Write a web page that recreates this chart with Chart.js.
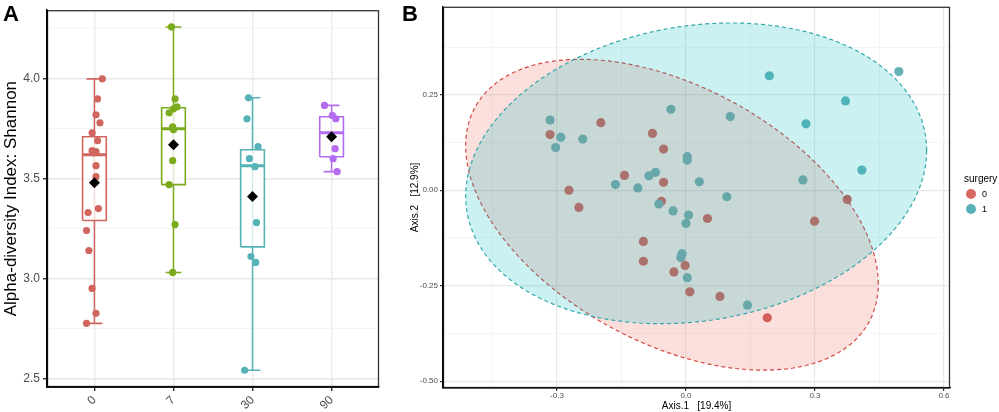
<!DOCTYPE html>
<html><head><meta charset="utf-8">
<script src="https://cdn.jsdelivr.net/npm/chart.js@4.4.1/dist/chart.umd.min.js"></script>
<style>
html,body{margin:0;padding:0;background:#fff;}
#wrap{position:relative;width:999px;height:412px;overflow:hidden;font-family:"Liberation Sans",Arial,sans-serif;}
#cA{position:absolute;left:0;top:0;}
#cB{position:absolute;left:400px;top:0;}
.lab{position:absolute;font-weight:bold;font-size:22px;line-height:22px;color:#000;}
.txt{position:absolute;color:#000;line-height:1;white-space:nowrap;}
.key{position:absolute;width:10px;height:10px;border-radius:50%;}
</style></head>
<body><div id="wrap">
<canvas id="cA" width="400" height="412"></canvas>
<canvas id="cB" width="599" height="412"></canvas>
<div class="lab" style="left:3px;top:3px">A</div>
<div class="lab" style="left:402px;top:3px">B</div>
<div class="txt" style="left:964px;top:174px;font-size:10px">surgery</div>
<div class="key" style="left:966px;top:189px;background:rgb(216,104,97)"></div>
<div class="txt" style="left:982px;top:190px;font-size:9px">0</div>
<div class="key" style="left:966px;top:204px;background:rgb(90,178,182)"></div>
<div class="txt" style="left:982px;top:205px;font-size:9px">1</div>
</div>
<script>
// ---------- Panel A data ----------
const categories = ['0','7','30','90'];
const shannon0 = [4.00,3.90,3.82,3.78,3.73,3.69,3.64,3.635,3.63,3.565,3.51,3.35,3.33,3.24,3.14,2.95,2.825,2.775];
const jitter0  = [0.10,0.04,0.02,0.07,-0.03,0.04,-0.03,0.02,-0.01,0.02,0.02,0.05,-0.08,-0.10,-0.07,-0.03,0.02,-0.10];
const shannon7 = [4.26,3.90,3.86,3.85,3.83,3.76,3.745,3.59,3.47,3.27,3.03];
const jitter7  = [-0.025,0.02,0.045,0.0,-0.055,-0.01,0.0,-0.01,-0.055,0.02,-0.01];
const shannon30 = [3.905,3.80,3.66,3.60,3.56,3.28,3.11,3.08,2.54];
const jitter30  = [-0.05,-0.07,0.07,-0.04,0.03,0.05,-0.02,0.04,-0.10];
const shannon90 = [3.867,3.817,3.80,3.65,3.60,3.535];
const jitter90  = [-0.09,0.01,0.055,0.045,0.02,0.07];
const whiskerLow  = [2.775,3.03,2.54,3.535];
const q1          = [3.29,3.47,3.158,3.61];
const median      = [3.62,3.75,3.565,3.73];
const q3          = [3.71,3.855,3.645,3.81];
const whiskerHigh = [4.00,4.26,3.905,3.867];
const means       = [3.48,3.67,3.41,3.71];
const yTicksA = [2.5,2.75,3.0,3.25,3.5,3.75,4.0,4.25];

// ---------- Panel B data ----------
const axis1_s0 = [-0.316,-0.198,-0.143,-0.272,-0.249,-0.078,-0.052,-0.052,-0.057,-0.099,-0.099,-0.028,-0.002,0.009,0.375,0.050,0.299,0.079,0.189];
const axis2_s0 = [0.146,0.177,0.039,0.000,-0.045,0.149,0.108,0.021,-0.029,-0.134,-0.186,-0.214,-0.197,-0.266,-0.024,-0.074,-0.081,-0.278,-0.334];
const axis1_s1 = [-0.316,-0.291,-0.303,-0.240,-0.035,-0.164,-0.112,-0.086,-0.071,0.003,0.003,0.031,-0.063,-0.030,0.006,0.000,-0.009,-0.012,0.003,0.194,0.495,0.371,0.103,0.279,0.409,0.272,0.095,0.143];
const axis2_s1 = [0.184,0.139,0.112,0.134,0.212,0.015,0.006,0.038,0.047,0.088,0.079,0.022,-0.036,-0.054,-0.065,-0.087,-0.166,-0.176,-0.229,0.300,0.311,0.234,0.193,0.174,0.053,0.027,-0.017,-0.301];
// ellipse (centre, conjugate semi-axes) per surgery group
const ellCenter0 = [-0.0326,-0.0641], ellU0 = [0.4798,-0.1809], ellV0 = [0,0.3648];
const ellCenter1 = [0.0237,0.0443],  ellU1 = [0.536,0.0601],   ellV1 = [0,0.3893];
const xTicksB = [-0.45,-0.3,-0.15,0,0.15,0.3,0.45,0.6];
const yTicksB = [-0.5,-0.375,-0.25,-0.125,0,0.125,0.25,0.375];

// ---------- common ----------
Chart.defaults.font.family = "'Liberation Sans', Arial, sans-serif";
Chart.defaults.animation = false;
const groupCols = ['#D1665E','#7BAA1C','#55B3B6','#B36CF0'];
const values = [shannon0,shannon7,shannon30,shannon90];
const jitters = [jitter0,jitter7,jitter30,jitter90];

function borderPlugin(lw){
  return {id:'panelBorder', afterDatasetsDraw(chart){
    const a=chart.chartArea, c=chart.ctx; c.save();
    c.strokeStyle='#333'; c.lineWidth=1.3; c.strokeRect(a.left+0.5,a.top+0.5,a.right-a.left-1,a.bottom-a.top-1);
    c.strokeStyle='#000'; c.lineWidth=lw; c.beginPath();
    c.moveTo(a.left,a.top); c.lineTo(a.left,a.bottom); c.lineTo(a.right,a.bottom); c.stroke();
    c.restore();
  }};
}
const seg = (pts,col,w,order,extra) => Object.assign({type:'scatter',data:pts,showLine:true,borderColor:col,borderWidth:w,pointRadius:0,fill:false,tension:0,order:order},extra||{});

// ---------- Panel A ----------
const dsA = [];
categories.forEach((cat,i)=>{
  const c=i+1, col=groupCols[i], hw=0.15, cw=0.1;
  dsA.push(seg([{x:c,y:whiskerLow[i]},{x:c,y:whiskerHigh[i]}],col,1.5,5));
  dsA.push(seg([{x:c-hw,y:q1[i]},{x:c+hw,y:q1[i]},{x:c+hw,y:q3[i]},{x:c-hw,y:q3[i]},{x:c-hw,y:q1[i]}],col,1.6,4,{fill:'shape',backgroundColor:'rgba(255,255,255,0.78)'}));
  dsA.push(seg([{x:c-hw,y:median[i]},{x:c+hw,y:median[i]}],col,3,3));
  dsA.push(seg([{x:c-cw,y:whiskerHigh[i]},{x:c+cw,y:whiskerHigh[i]}],col,1.6,3));
  dsA.push(seg([{x:c-cw,y:whiskerLow[i]},{x:c+cw,y:whiskerLow[i]}],col,1.6,3));
  dsA.push({type:'scatter',data:values[i].map((v,j)=>({x:c+jitters[i][j],y:v})),pointRadius:3.6,pointBackgroundColor:col,pointBorderWidth:0,order:1});
  dsA.push({type:'scatter',data:[{x:c,y:means[i]}],pointStyle:'rectRot',pointRadius:5.5,pointBackgroundColor:'#000',pointBorderWidth:0,order:0});
});
const majA = v => Math.abs(v*2-Math.round(v*2))<1e-6;
new Chart(document.getElementById('cA'),{
  type:'scatter', data:{datasets:dsA},
  options:{responsive:false, events:[], layout:{padding:{left:0,top:3,right:21,bottom:0}},
    plugins:{legend:{display:false},tooltip:{enabled:false}},
    scales:{
      x:{type:'linear',min:0.4,max:4.6,
        afterBuildTicks:s=>{s.ticks=categories.map((c,i)=>({value:i+1}));},
        ticks:{callback:(v,i)=>categories[i],minRotation:45,maxRotation:45,autoSkip:false,color:'#4D4D4D',font:{size:12},padding:2},
        grid:{color:'#EBEBEB',lineWidth:1.4,tickColor:'#333',tickLength:4},
        border:{color:'#000',width:1.5},
        afterFit:s=>{s.height=25;}},
      y:{type:'linear',min:2.456,max:4.344,
        afterBuildTicks:s=>{s.ticks=yTicksA.map(v=>({value:v}));},
        ticks:{callback:v=>majA(v)?v.toFixed(1):'',color:'#4D4D4D',font:{size:12},padding:3,autoSkip:false},
        grid:{color:ctx=>majA(ctx.tick.value)?'#E8E8E8':'#F3F3F3',lineWidth:ctx=>majA(ctx.tick.value)?1.4:0.8,
              tickColor:ctx=>majA(ctx.tick.value)?'#333':'rgba(0,0,0,0)',tickLength:4},
        border:{color:'#000',width:1.5},
        title:{display:true,text:'Alpha-diversity Index: Shannon',color:'#000',font:{size:17},padding:{top:1,bottom:0}},
        afterFit:s=>{s.width=47;}}
    }},
  plugins:[borderPlugin(1.6)]
});

// ---------- Panel B ----------
function ellipsePts(c,u,v){const n=180,p=[];for(let k=0;k<=n;k++){const t=2*Math.PI*k/n;p.push({x:c[0]+u[0]*Math.cos(t)+v[0]*Math.sin(t),y:c[1]+u[1]*Math.cos(t)+v[1]*Math.sin(t)});}return p;}
const dsB = [
  {type:'scatter',data:axis1_s0.map((x,i)=>({x:x,y:axis2_s0[i]})),pointRadius:4.6,pointBackgroundColor:'rgb(208,92,86)',pointBorderWidth:0,order:4},
  {type:'scatter',data:axis1_s1.map((x,i)=>({x:x,y:axis2_s1[i]})),pointRadius:4.6,pointBackgroundColor:'rgb(100,178,182)',pointBorderWidth:0,order:3},
  seg(ellipsePts(ellCenter0,ellU0,ellV0),'rgb(214,72,66)',1.2,2,{fill:'shape',backgroundColor:'rgba(232,110,100,0.22)',borderDash:[4,3]}),
  seg(ellipsePts(ellCenter1,ellU1,ellV1),'rgb(52,168,172)',1.2,1,{fill:'shape',backgroundColor:'rgba(0,185,190,0.2)',borderDash:[4,3]})
];
const majX = v => Math.abs(v/0.3-Math.round(v/0.3))<1e-6;
const majY = v => Math.abs(v/0.25-Math.round(v/0.25))<1e-6;
new Chart(document.getElementById('cB'),{
  type:'scatter', data:{datasets:dsB},
  options:{responsive:false, events:[], layout:{padding:{left:0,top:3,right:49,bottom:0}},
    plugins:{legend:{display:false},tooltip:{enabled:false}},
    scales:{
      x:{type:'linear',min:-0.565,max:0.614,
        afterBuildTicks:s=>{s.ticks=xTicksB.map(v=>({value:v}));},
        ticks:{callback:v=>majX(v)?v.toFixed(1):'',maxRotation:0,autoSkip:false,color:'#4D4D4D',font:{size:8},padding:0},
        grid:{color:ctx=>majX(ctx.tick.value)?'#E8E8E8':'#F3F3F3',lineWidth:ctx=>majX(ctx.tick.value)?1.2:0.8,
              tickColor:ctx=>majX(ctx.tick.value)?'#333':'rgba(0,0,0,0)',tickLength:3},
        border:{color:'#000',width:1.2},
        title:{display:true,text:'Axis.1   [19.4%]',color:'#000',font:{size:10},padding:{top:0,bottom:0}},
        afterFit:s=>{s.height=24;}},
      y:{type:'linear',min:-0.518,max:0.4806,
        afterBuildTicks:s=>{s.ticks=yTicksB.map(v=>({value:v}));},
        ticks:{callback:v=>majY(v)?v.toFixed(2):'',color:'#4D4D4D',font:{size:8},padding:2,autoSkip:false},
        grid:{color:ctx=>majY(ctx.tick.value)?'#E8E8E8':'#F3F3F3',lineWidth:ctx=>majY(ctx.tick.value)?1.2:0.8,
              tickColor:ctx=>majY(ctx.tick.value)?'#333':'rgba(0,0,0,0)',tickLength:3},
        border:{color:'#000',width:1.2},
        title:{display:true,text:'Axis.2   [12.9%]',color:'#000',font:{size:10},padding:{top:9,bottom:0}},
        afterFit:s=>{s.width=43;}}
    }},
  plugins:[borderPlugin(1.2)]
});
</script>
</body></html>
